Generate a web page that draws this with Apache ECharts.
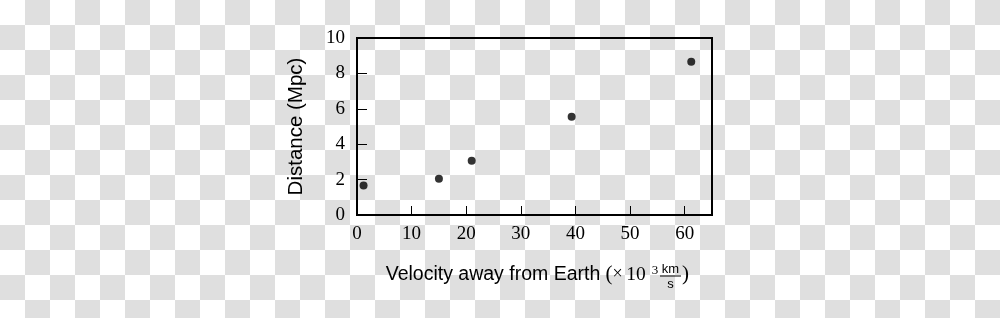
<!DOCTYPE html>
<html>
<head>
<meta charset="utf-8">
<script src="https://cdn.jsdelivr.net/npm/echarts@6/dist/echarts.min.js"></script>
<style>
html,body{margin:0;padding:0;width:1000px;height:318px;overflow:hidden;
background:repeating-conic-gradient(#dfdfdf 0 25%, #ffffff 0 50%) 0 0/50px 50px;}
#c{width:1000px;height:318px;}
</style>
</head>
<body>
<div id="c"></div>
<script>
const velocity = [1.2, 15.0, 21.0, 39.3, 61.2];
const distance = [1.66, 2.05, 3.07, 5.55, 8.66];
const xTicks = [0, 10, 20, 30, 40, 50, 60];
const yTicks = [0, 2, 4, 6, 8, 10];
const xLabel = 'Velocity away from Earth';
const yLabel = 'Distance (Mpc)';

const points = velocity.map((v, i) => [v, distance[i]]);
const chart = echarts.init(document.getElementById('c'), null, {renderer: 'canvas'});
const serif = 'Liberation Serif';
const sans = 'Liberation Sans';
chart.setOption({
  backgroundColor: 'transparent',
  animation: false,
  grid: {left: 357, top: 38, right: 288, bottom: 103, show: true, borderColor: '#000', borderWidth: 2, backgroundColor: 'transparent'},
  xAxis: {
    type: 'value', min: 0, max: 65, interval: 10,
    axisLine: {show: false},
    axisTick: {show: true, inside: true, length: 9, lineStyle: {color: '#000', width: 1}},
    splitLine: {show: false},
    axisLabel: {color: '#000', fontFamily: serif, fontSize: 19, margin: 10,
      formatter: v => xTicks.includes(v) ? String(v) : ''},
    name: '{a|' + xLabel + '}{p|(}{x|×}{n|10}{sup|3}{gap|}{q|)}',
    nameLocation: 'middle', nameGap: 49,
    nameTextStyle: {rich: {
      a: {fontFamily: sans, fontSize: 19.5, color: '#000', width: 225},
      p: {fontFamily: serif, fontSize: 21, color: '#000', width: 7},
      q: {fontFamily: serif, fontSize: 21, color: '#000', width: 6},
      x: {fontFamily: serif, fontSize: 18, color: '#000', width: 10},
      n: {fontFamily: serif, fontSize: 19.5, color: '#000', width: 27},
      sup: {fontFamily: serif, fontSize: 13, color: '#000', width: 11, verticalAlign: 'top', padding: [0, 0, 8, 0]},
      gap: {width: 22}
    }}
  },
  yAxis: {
    type: 'value', min: 0, max: 10, interval: 2,
    axisLine: {show: false},
    axisTick: {show: true, inside: true, length: 10, lineStyle: {color: '#000', width: 1}},
    splitLine: {show: false},
    axisLabel: {color: '#000', fontFamily: serif, fontSize: 19, margin: 12,
      formatter: v => yTicks.includes(v) ? String(v) : ''},
    name: yLabel, nameLocation: 'middle', nameGap: 50,
    nameTextStyle: {fontFamily: sans, fontSize: 20.5, color: '#000'}
  },
  series: [{
    type: 'scatter', data: points, symbol: 'circle', symbolSize: 8,
    itemStyle: {color: '#000'}
  }],
  graphic: [
    {type: 'text', x: 670.5, y: 269, style: {text: 'km', font: '13px Liberation Sans', fill: '#000', align: 'center', verticalAlign: 'middle'}},
    {type: 'line', shape: {x1: 660, y1: 276, x2: 681, y2: 276}, style: {stroke: '#000', lineWidth: 1}},
    {type: 'text', x: 670.5, y: 284, style: {text: 's', font: '13px Liberation Sans', fill: '#000', align: 'center', verticalAlign: 'middle'}}
  ]
});
</script>
</body>
</html>
